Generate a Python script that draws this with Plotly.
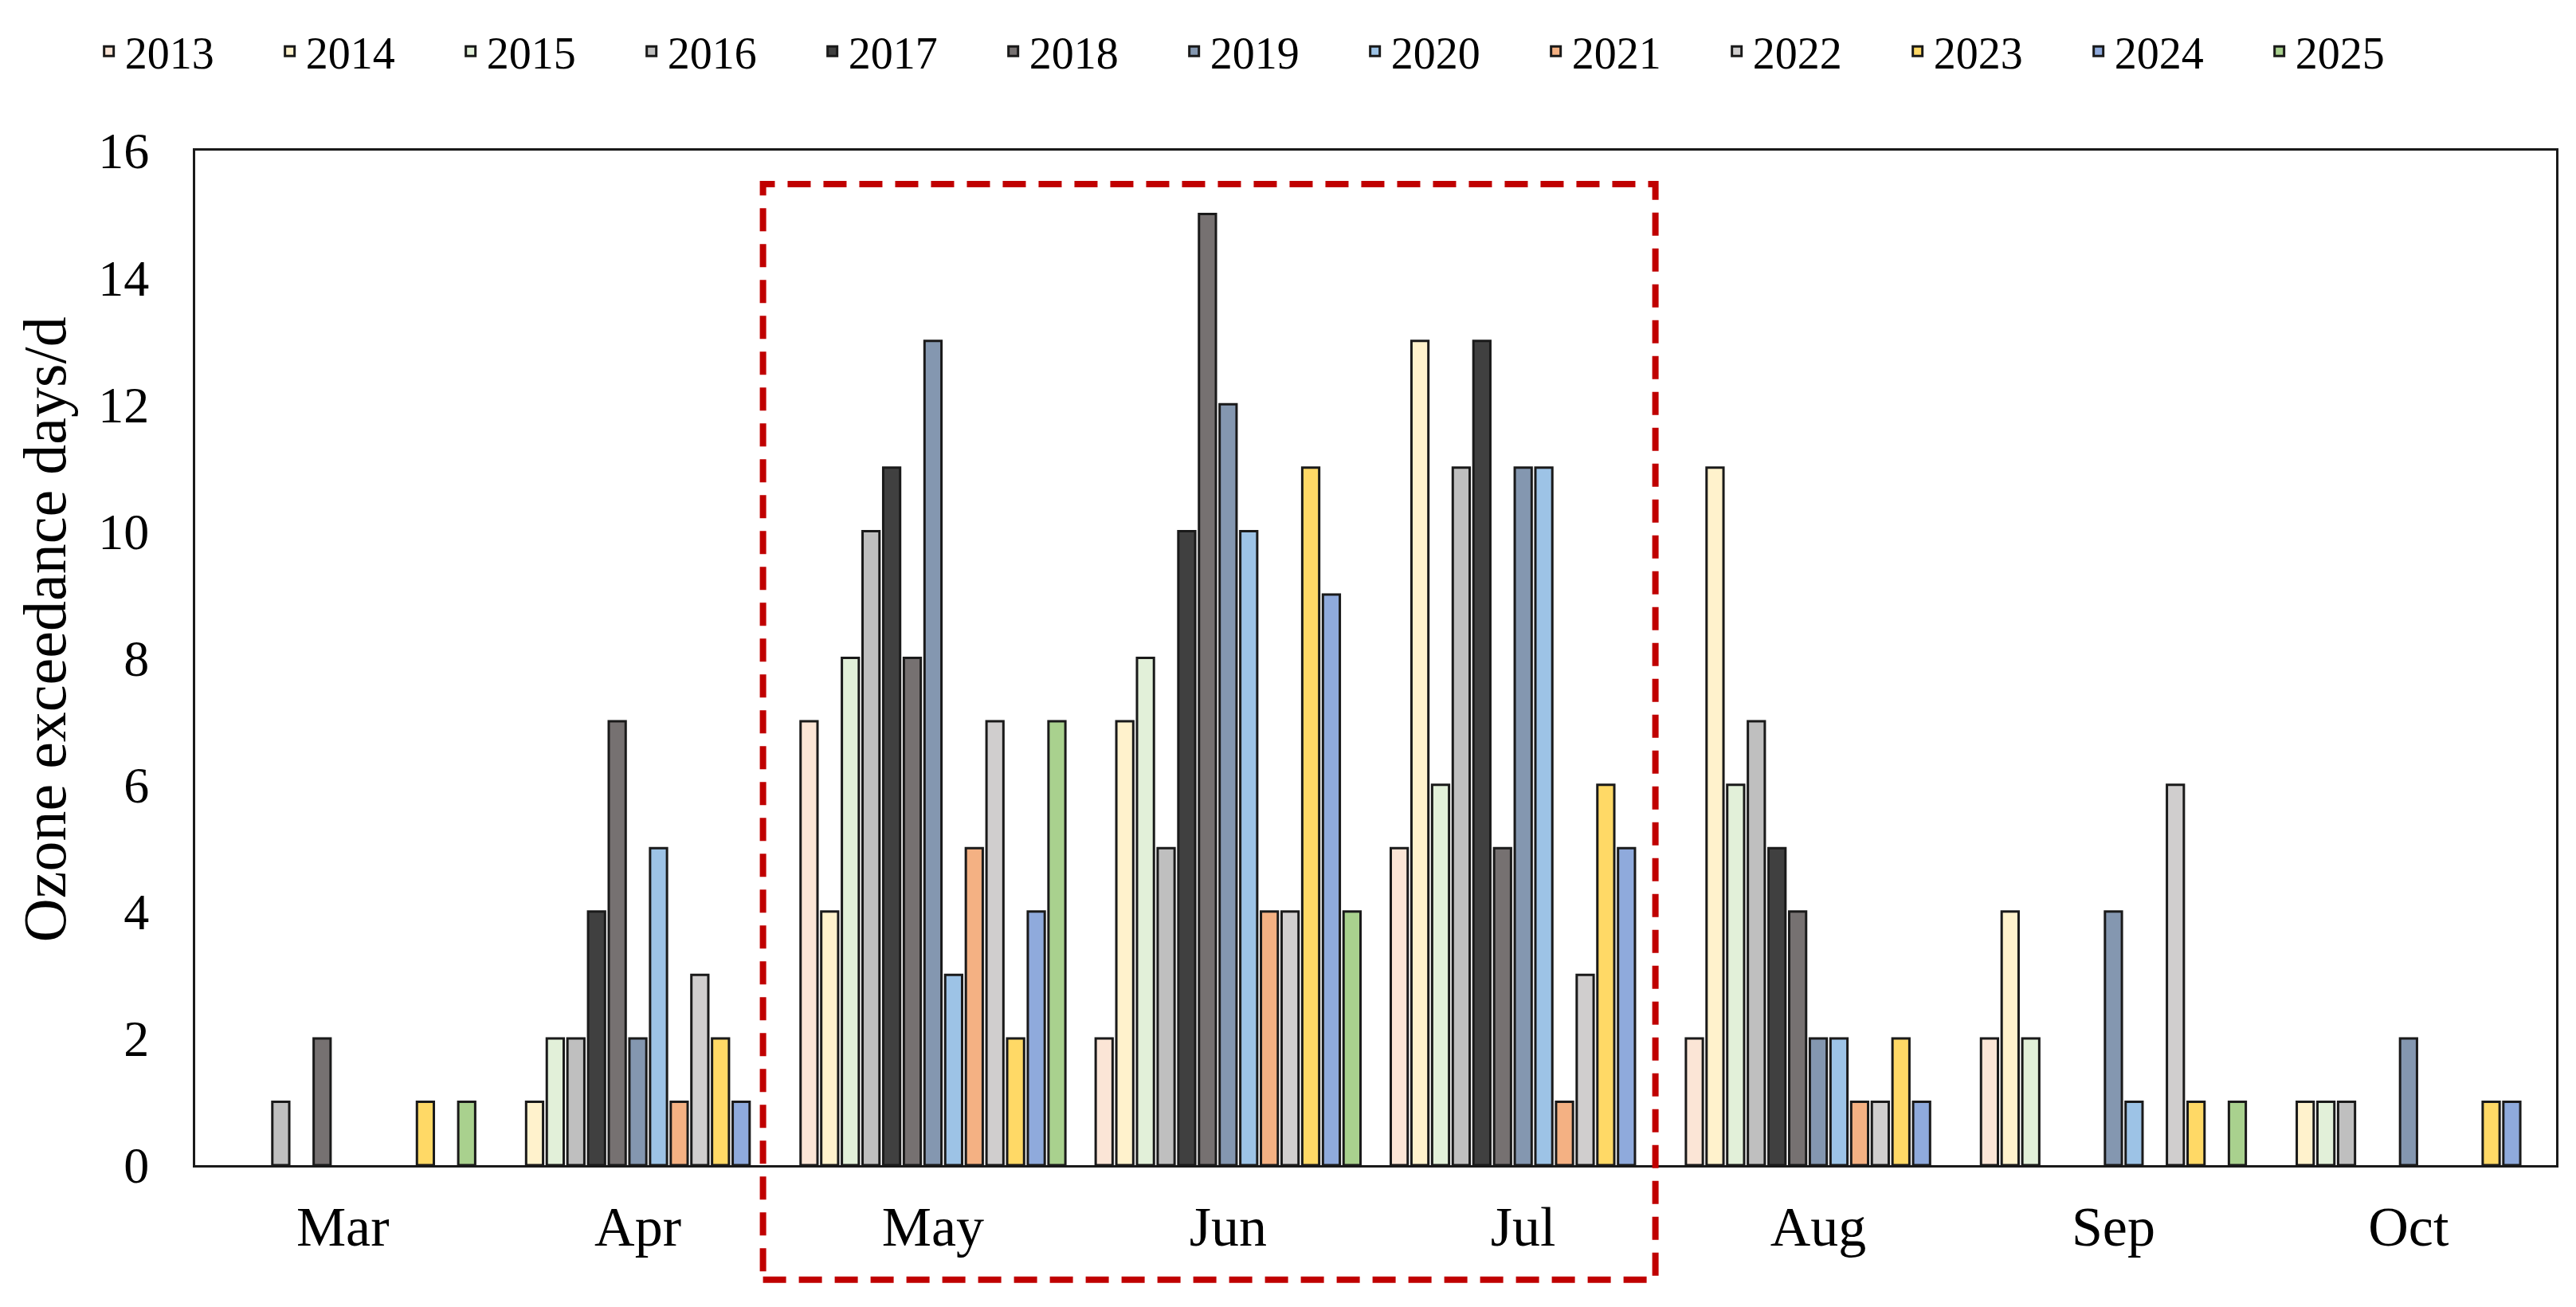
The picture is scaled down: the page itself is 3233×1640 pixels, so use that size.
import plotly.graph_objects as go

months = ["Mar", "Apr", "May", "Jun", "Jul", "Aug", "Sep", "Oct"]
years = ["2013", "2014", "2015", "2016", "2017", "2018", "2019",
         "2020", "2021", "2022", "2023", "2024", "2025"]

# exceedance days per month, one list per year (Mar..Oct)
y2013 = [0, 0, 7, 2, 5, 2, 2, 0]
y2014 = [0, 1, 4, 7, 13, 11, 4, 1]
y2015 = [0, 2, 8, 8, 6, 6, 2, 1]
y2016 = [1, 2, 10, 5, 11, 7, 0, 1]
y2017 = [0, 4, 11, 10, 13, 5, 0, 0]
y2018 = [2, 7, 8, 15, 5, 4, 0, 0]
y2019 = [0, 2, 13, 12, 11, 2, 4, 2]
y2020 = [0, 5, 3, 10, 11, 2, 1, 0]
y2021 = [0, 1, 5, 4, 1, 1, 0, 0]
y2022 = [0, 3, 7, 4, 3, 1, 6, 0]
y2023 = [1, 2, 2, 11, 6, 2, 1, 1]
y2024 = [0, 1, 4, 9, 5, 1, 0, 1]
y2025 = [1, 0, 7, 4, 0, 0, 1, 0]

series = [y2013, y2014, y2015, y2016, y2017, y2018, y2019,
          y2020, y2021, y2022, y2023, y2024, y2025]

colors = ["#FBE5D6", "#FFF2CC", "#E2F0D9", "#BFBFBF", "#404040", "#767171",
          "#8497B0", "#9DC3E6", "#F4B183", "#D0CECE", "#FFD966", "#8FAADC",
          "#A9D18E"]

FONT = "Liberation Serif, Times New Roman, serif"

fig = go.Figure()
for yr, vals, col in zip(years, series, colors):
    # zero months are left blank (no outline on the axis), like Excel
    shown = [v if v != 0 else None for v in vals]
    fig.add_trace(go.Bar(
        x=months, y=shown, name=yr,
        marker=dict(color=col, line=dict(color="#1a1a1a", width=3)),
    ))

# highlighted May-Jul window
fig.add_shape(
    type="rect", xref="paper", yref="paper",
    x0=0.2405, x1=0.6185, y0=-0.113, y1=0.967,
    line=dict(color="#C00000", width=8, dash="29px,16px"),
    fillcolor="rgba(0,0,0,0)", layer="above",
)

# y title as an annotation so it sits left of the tick labels
fig.add_annotation(
    text="Ozone exceedance days/d", textangle=-90,
    xref="paper", yref="paper", x=-0.064, y=0.528,
    xanchor="center", yanchor="middle", showarrow=False,
    font=dict(size=76),
)

fig.update_layout(
    width=3233, height=1640,
    paper_bgcolor="white", plot_bgcolor="white",
    margin=dict(l=237, r=33, t=181, b=186, autoexpand=False),
    barmode="group", bargap=0.09, bargroupgap=0.18,
    font=dict(family=FONT, size=60, color="black"),
    legend=dict(
        orientation="h", xref="container", x=0.49, xanchor="center",
        y=1.098, yanchor="middle", font=dict(size=56),
        entrywidth=182, entrywidthmode="pixels", traceorder="normal",
    ),
)

fig.update_xaxes(
    showline=True, linecolor="#1a1a1a", linewidth=3, mirror=True,
    ticks="", ticklabelstandoff=14, tickfont=dict(size=70),
)
fig.update_yaxes(
    range=[0, 16], dtick=2, showgrid=False, zeroline=False,
    showline=True, linecolor="#1a1a1a", linewidth=3, mirror=True,
    ticks="", ticklabelstandoff=42, tickfont=dict(size=64),
)

fig.write_html("out.html")
